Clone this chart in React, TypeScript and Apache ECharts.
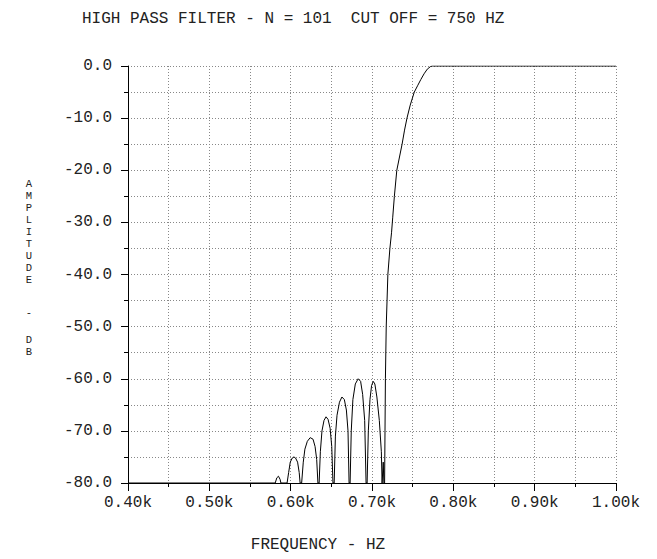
import React, { useEffect, useRef } from 'react';
import * as echarts from 'echarts';

const FONT = '"Liberation Mono", "Courier New", monospace';

const TITLE = 'HIGH PASS FILTER - N = 101  CUT OFF = 750 HZ';
const X_NAME = 'FREQUENCY - HZ';
const Y_NAME_WORD = ['A', 'M', 'P', 'L', 'I', 'T', 'U', 'D', 'E'];
const Y_NAME_DASH = '-';
const Y_NAME_UNIT = ['D', 'B'];

const X_MIN = 400;
const X_MAX = 1000;
const X_STEP = 100;
const Y_MIN = -80;
const Y_MAX = 0;
const Y_STEP = 10;

// [frequency Hz, amplitude dB]
const stopbandFloor: number[][] = [[400, -80], [581, -80]];
const lobe1: number[][] = [[581, -80], [583, -79], [585, -78.7], [587, -79.3], [588, -80], [595.6, -80]];
const lobe2: number[][] = [[595.6, -80], [597.5, -78], [599.5, -76], [602, -75.2], [604, -75], [606, -75.2], [608.5, -76], [610.5, -78], [611.6, -80], [613.5, -80]];
const lobe3: number[][] = [[613.5, -80], [615.5, -76], [617.5, -73.5], [620.5, -72], [624, -71.3], [627.5, -71.6], [630, -73], [632, -75.5], [633.5, -80], [635, -80]];
const lobe4: number[][] = [[635, -80], [636.5, -74], [638.5, -70], [641, -68], [643.5, -67.3], [646, -67.8], [648.5, -69.5], [650.5, -73], [652, -80], [653.5, -80]];
const lobe5: number[][] = [[653.5, -80], [655, -71], [657, -67], [660, -64.5], [663, -63.5], [666, -64], [668.5, -66], [670.5, -70], [671.8, -80], [673.1, -80]];
const lobe6: number[][] = [[673.1, -80], [674.5, -70], [676.5, -64], [679.5, -61], [683, -60], [686, -60.5], [688.5, -63], [691, -68], [692.7, -80], [694, -80]];
const lobe7: number[][] = [[694, -80], [695.5, -70], [697.5, -64], [699.5, -61.3], [701.5, -60.5], [703.5, -61], [706, -63.5], [709, -68], [711.5, -74], [712.4, -80], [713, -80], [713.8, -76], [714.6, -80]];
const transitionBand: number[][] = [[715.5, -80], [716, -70], [716.5, -60], [717.5, -50], [719.5, -40], [722, -35], [724, -32], [725.5, -29], [727.5, -25], [730.5, -20], [737, -15], [740, -12.3], [743, -10], [747, -7.5], [752, -5], [756, -3.8], [760, -2.6], [764, -1.5], [768, -0.6], [772, -0.1], [774, 0]];
const passband: number[][] = [[774, 0], [1000, 0]];

const gridLine = { show: true, lineStyle: { color: '#888', type: [1, 2] as number[], width: 1 } };

export default function App() {
  const ref = useRef<HTMLDivElement>(null);
  useEffect(() => {
    const chart = echarts.init(ref.current!, null, { renderer: 'svg' });
    const data = [
      ...stopbandFloor, ...lobe1, ...lobe2, ...lobe3, ...lobe4, ...lobe5, ...lobe6, ...lobe7,
      ...transitionBand, ...passband,
    ];
    chart.setOption({
      animation: false,
      backgroundColor: '#fff',
      grid: { left: 128, right: 41, top: 66, bottom: 76, containLabel: false },
      xAxis: {
        type: 'value', min: X_MIN, max: X_MAX, interval: X_STEP,
        axisLine: { show: true, onZero: false, lineStyle: { color: '#000', width: 1 } },
        axisTick: { show: true, length: 8, lineStyle: { color: '#000' } },
        minorTick: { show: true, splitNumber: 2, length: 4, lineStyle: { color: '#000' } },
        axisLabel: {
          formatter: (v: number) => (v / 1000).toFixed(2) + 'k',
          margin: 12, color: '#222', fontFamily: FONT, fontSize: 16,
        },
        splitLine: gridLine,
        minorSplitLine: gridLine,
      },
      yAxis: {
        type: 'value', min: Y_MIN, max: Y_MAX, interval: Y_STEP,
        axisLine: { show: true, onZero: false, lineStyle: { color: '#000', width: 1 } },
        axisTick: { show: true, length: 7, lineStyle: { color: '#000' } },
        minorTick: { show: true, splitNumber: 2, length: 4, lineStyle: { color: '#000' } },
        axisLabel: {
          formatter: (v: number) => v.toFixed(1),
          margin: 16, color: '#222', fontFamily: FONT, fontSize: 16,
        },
        splitLine: gridLine,
        minorSplitLine: gridLine,
      },
      series: [{
        type: 'line', data, showSymbol: false, symbol: 'none',
        lineStyle: { color: '#000', width: 1 }, clip: true,
      }],
      graphic: [
        { type: 'text', x: 82, y: 19, style: { text: TITLE, fontFamily: FONT, fontSize: 16, fill: '#222', verticalAlign: 'middle', align: 'left' } },
        { type: 'text', x: 318, y: 545, style: { text: X_NAME, fontFamily: FONT, fontSize: 16, fill: '#222', verticalAlign: 'middle', align: 'center' } },
        { type: 'text', x: 29, y: 178, style: { text: Y_NAME_WORD.join('\n'), fontFamily: FONT, fontSize: 10.5, lineHeight: 12, fill: '#222', verticalAlign: 'top', align: 'center' } },
        { type: 'text', x: 29, y: 313, style: { text: Y_NAME_DASH, fontFamily: FONT, fontSize: 10.5, fill: '#222', verticalAlign: 'middle', align: 'center' } },
        { type: 'text', x: 29, y: 334, style: { text: Y_NAME_UNIT.join('\n'), fontFamily: FONT, fontSize: 10.5, lineHeight: 12, fill: '#222', verticalAlign: 'top', align: 'center' } },
      ],
    });
    return () => chart.dispose();
  }, []);
  return <div ref={ref} style={{ position: 'absolute', left: 0, top: 0, width: 657, height: 559, background: '#fff' }} />;
}
